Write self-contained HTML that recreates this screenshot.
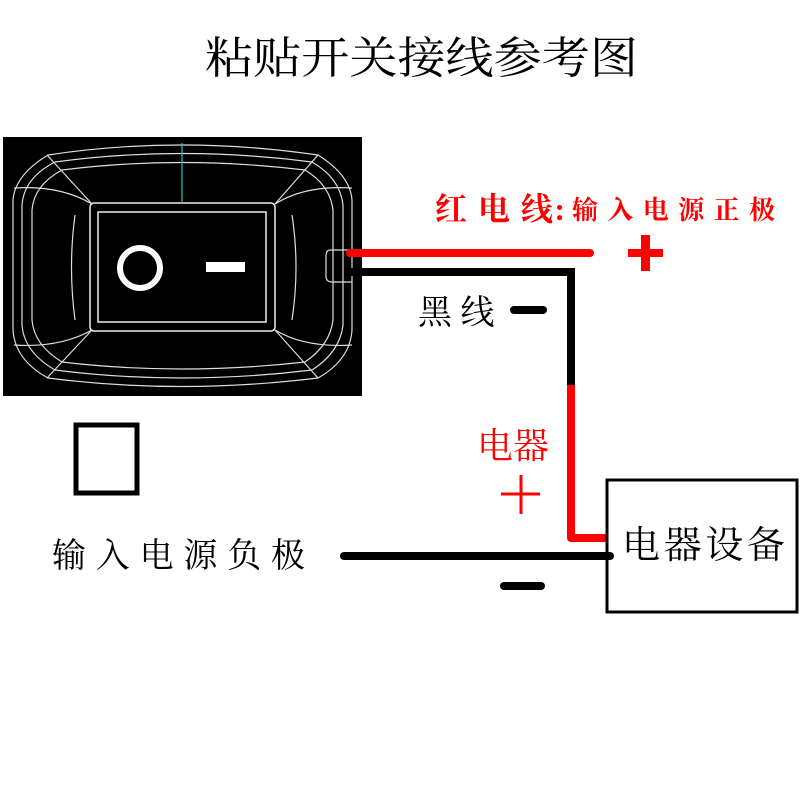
<!DOCTYPE html>
<html><head><meta charset="utf-8"><style>
html,body{margin:0;padding:0;background:#fff;}
body{width:800px;height:800px;overflow:hidden;}
text{font-family:"Liberation Serif","Noto Serif CJK SC","Noto Sans CJK SC",serif;}
</style></head><body>
<svg width="800" height="800" viewBox="0 0 800 800" xmlns="http://www.w3.org/2000/svg">
<rect width="800" height="800" fill="#fff"/>
<text x="205" y="73" font-size="44" fill="#000" textLength="433" lengthAdjust="spacingAndGlyphs">粘贴开关接线参考图</text>

<rect x="3" y="137" width="359" height="259" fill="#000"/>
<g fill="none" stroke="#ddd" stroke-width="1.2">
<path d="M48,155 Q180,135 318,155 Q350,175 352,200 L352,330 Q350,360 318,378 Q180,395 48,378 Q15,360 13,330 L13,200 Q15,175 48,155 Z"/>
<path d="M55,162 Q180,145 312,162 Q340,178 343,205 L343,325 Q340,352 312,370 Q180,386 55,370 Q24,352 22,325 L22,205 Q24,178 55,162 Z"/>
<path d="M62,170 Q180,155 305,170 Q330,185 333,210 L333,320 Q330,345 305,362 Q180,376 62,362 Q34,345 32,320 L32,210 Q34,185 62,170 Z"/>
<path d="M47,155 L92,204 M318,155 L275,204 M47,378 L92,330 M318,378 L275,330"/>
<path d="M14,188 Q60,185 92,204 M352,188 Q305,185 275,204 M14,345 Q60,348 92,330 M352,345 Q305,348 275,330"/>
<path d="M75,215 Q68,267 75,320 M292,215 Q300,267 292,320"/>
</g>
<rect x="90" y="203" width="185" height="128" rx="4" fill="none" stroke="#eee" stroke-width="1.5"/>
<rect x="98" y="212" width="168" height="110" fill="none" stroke="#eee" stroke-width="1.5"/>
<line x1="182" y1="143" x2="182" y2="203" stroke="#3bb" stroke-width="1.2"/>
<circle cx="140" cy="268" r="20" fill="none" stroke="#fff" stroke-width="6"/>
<rect x="206" y="262" width="39" height="10" fill="#fff"/>
<path d="M352,250 L330,250 Q326,250 326,256 L326,276 Q326,282 332,282 L352,282" fill="none" stroke="#ddd" stroke-width="1.2"/>

<line x1="350" y1="253" x2="590" y2="253" stroke="#f00" stroke-width="8" stroke-linecap="round"/>
<polyline points="350,272 571,272 571,385" fill="none" stroke="#000" stroke-width="8"/>
<polyline points="571,385 571,538 607,538" fill="none" stroke="#f00" stroke-width="8" stroke-linejoin="round"/>
<line x1="344" y1="556" x2="610" y2="556" stroke="#000" stroke-width="8" stroke-linecap="round"/>

<rect x="628" y="249" width="35" height="8" fill="#f00"/>
<rect x="641" y="235" width="9" height="36" fill="#f00"/>
<line x1="514" y1="310" x2="543" y2="310" stroke="#000" stroke-width="8" stroke-linecap="round"/>
<line x1="504" y1="586" x2="541" y2="586" stroke="#000" stroke-width="8" stroke-linecap="round"/>
<line x1="501" y1="494" x2="540" y2="494" stroke="#f00" stroke-width="3"/>
<line x1="521" y1="475" x2="521" y2="514" stroke="#f00" stroke-width="3"/>

<text x="435" y="220" font-size="32" fill="#f00" font-weight="bold" textLength="130" lengthAdjust="spacing">红 电 线:</text>
<text x="572" y="219" font-size="26" fill="#f00" font-weight="bold" textLength="203" lengthAdjust="spacing">输入电源正极</text>
<text x="418" y="324" font-size="34" fill="#000">黑 线</text>
<text x="477" y="458" font-size="36" fill="#f00">电器</text>

<rect x="607" y="480" width="190" height="132" fill="none" stroke="#000" stroke-width="3"/>
<text x="622" y="558" font-size="38" fill="#000" textLength="163" lengthAdjust="spacing">电器设备</text>

<rect x="76" y="425" width="61" height="68" fill="none" stroke="#000" stroke-width="5"/>
<text x="52" y="567" font-size="34" fill="#000" textLength="253" lengthAdjust="spacing">输入电源负极</text>
</svg>
</body></html>
